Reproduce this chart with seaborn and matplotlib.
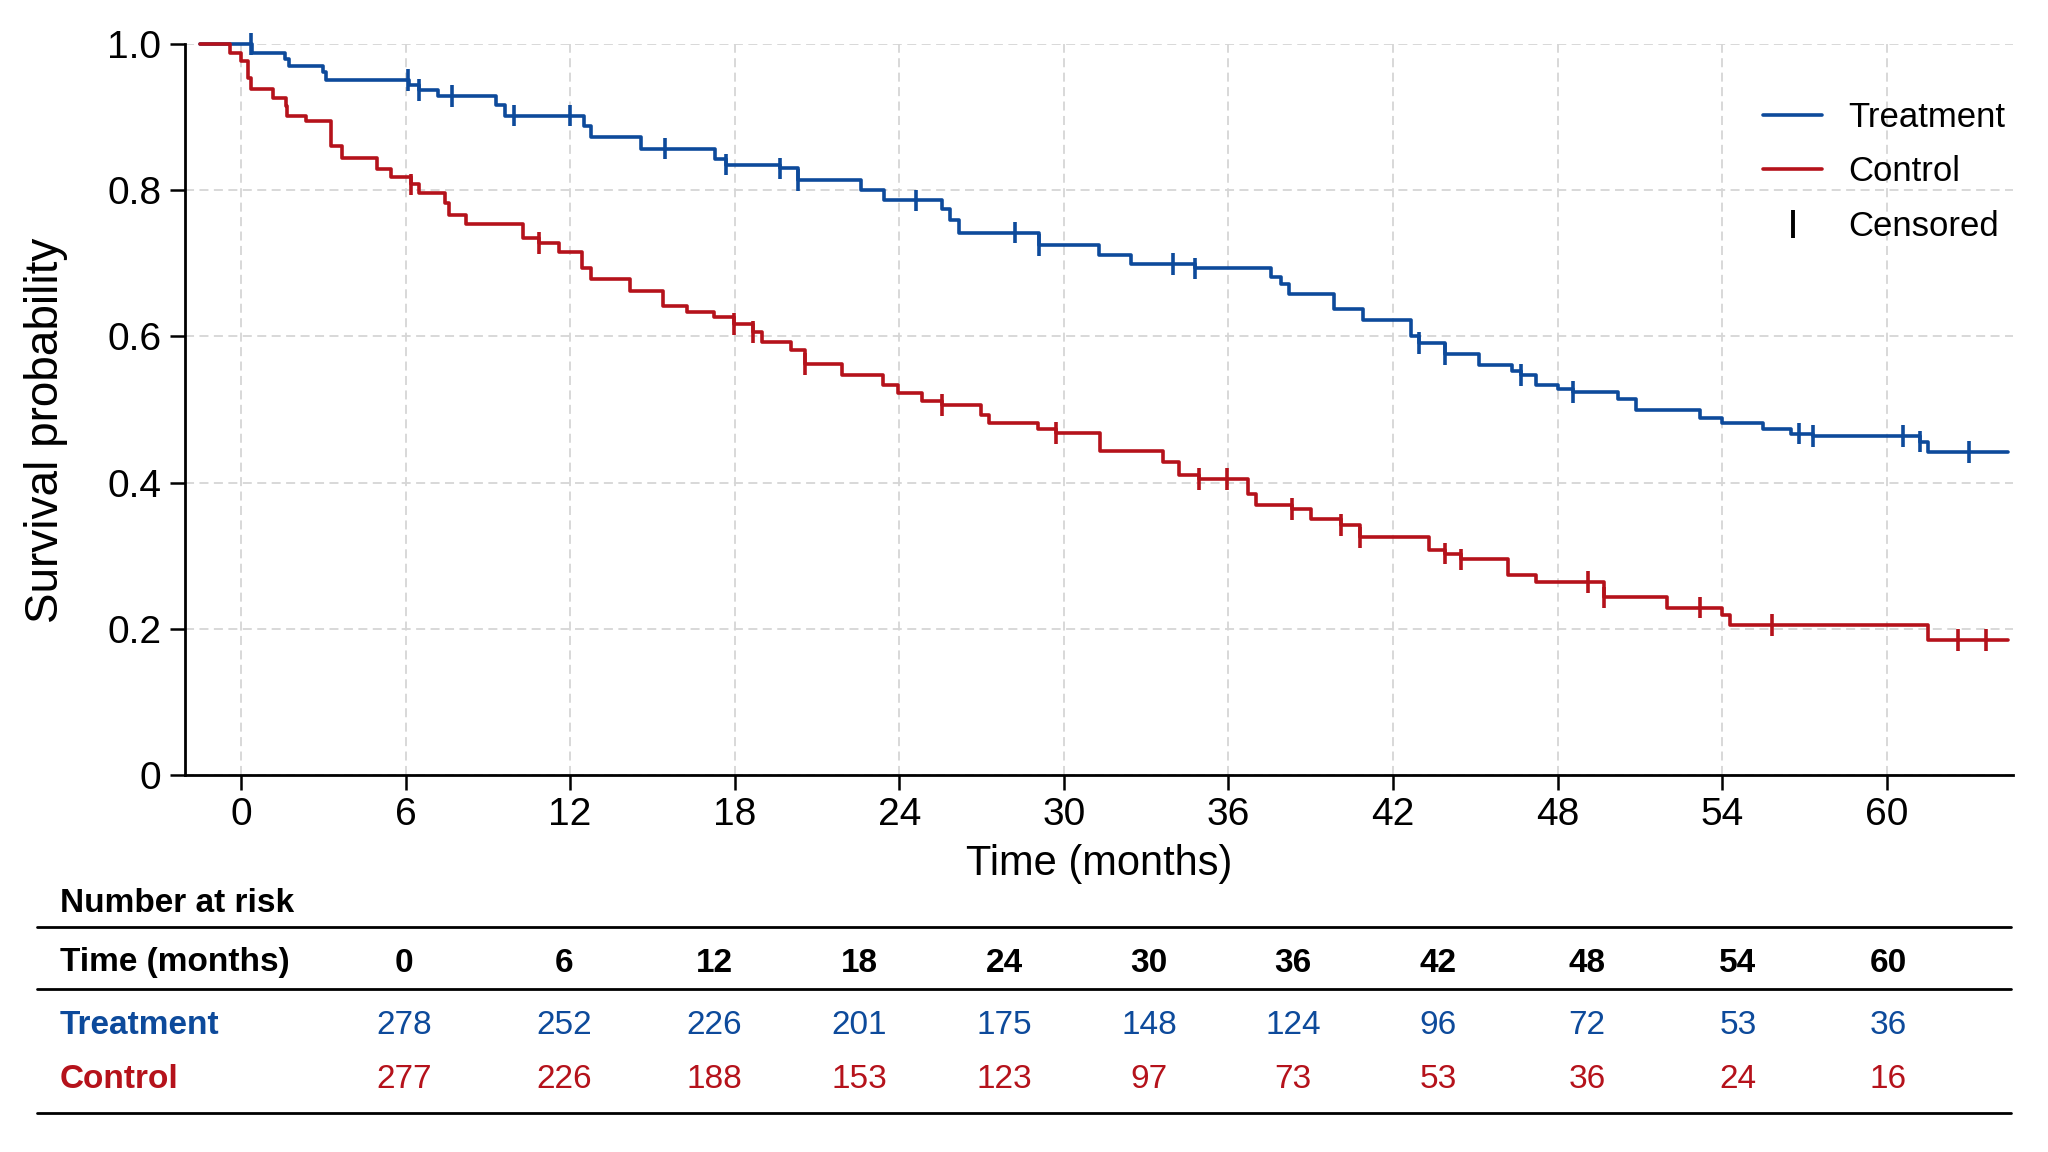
import numpy as np
import pandas as pd
import seaborn as sns
import matplotlib.pyplot as plt
from matplotlib.lines import Line2D

# --- Data ---
groups = ["Treatment", "Control"]
colors = {"Treatment": "#0D4A9B", "Control": "#B5121B"}

t_start, t_end = -1.5, 64.4

trt_times = [0.39, 1.6, 1.75, 3.0, 3.1, 6.13, 6.5, 7.2, 9.29, 9.62, 12.49, 12.76,
             14.6, 17.29, 17.7, 19.66, 20.3, 22.6, 23.43, 25.55, 25.85, 26.16,
             29.08, 31.28, 32.45, 34.78, 37.54, 37.9, 38.2, 39.86, 40.9, 42.65,
             42.95, 43.9, 45.13, 46.35, 46.66, 47.2, 48.0, 48.56, 50.2, 50.87,
             53.2, 54.0, 55.5, 56.5, 57.3, 61.2, 61.5]
trt_surv = [0.988, 0.979, 0.970, 0.962, 0.951, 0.944, 0.937, 0.929, 0.916, 0.902,
            0.888, 0.873, 0.857, 0.843, 0.835, 0.830, 0.814, 0.800, 0.786, 0.774,
            0.759, 0.742, 0.725, 0.712, 0.699, 0.693, 0.681, 0.671, 0.658, 0.637,
            0.623, 0.600, 0.591, 0.576, 0.561, 0.553, 0.547, 0.534, 0.528, 0.524,
            0.515, 0.499, 0.489, 0.482, 0.474, 0.467, 0.464, 0.456, 0.442]
trt_censor = [0.36, 6.1, 6.5, 7.68, 9.96, 12.0, 15.45, 17.7, 19.66, 20.3, 24.6,
              28.2, 29.08, 33.99, 34.78, 42.95, 43.9, 46.66, 48.56, 56.8, 57.3,
              60.6, 61.2, 63.0]

ctl_times = [-0.4, 0.0, 0.27, 0.37, 1.18, 1.65, 1.69, 2.37, 3.28, 3.3, 3.67, 4.95,
             5.46, 6.21, 6.48, 7.45, 7.6, 8.22, 10.27, 10.85, 11.6, 12.45, 12.76,
             14.2, 15.4, 16.25, 17.23, 17.96, 18.66, 19.0, 20.05, 20.57, 21.9,
             23.4, 23.95, 24.83, 25.57, 26.97, 27.28, 29.05, 29.7, 31.3, 33.63,
             34.2, 34.92, 36.73, 37.0, 38.3, 39.0, 40.1, 40.8, 43.3, 43.9, 44.47,
             46.2, 47.2, 49.7, 52.0, 54.0, 54.3, 61.5]
ctl_surv = [0.988, 0.977, 0.954, 0.939, 0.926, 0.915, 0.902, 0.895, 0.884, 0.861,
            0.844, 0.829, 0.818, 0.808, 0.796, 0.783, 0.766, 0.754, 0.735, 0.728,
            0.716, 0.693, 0.678, 0.662, 0.642, 0.634, 0.627, 0.617, 0.606, 0.593,
            0.581, 0.562, 0.547, 0.534, 0.523, 0.512, 0.506, 0.492, 0.482, 0.473,
            0.468, 0.443, 0.428, 0.411, 0.405, 0.385, 0.370, 0.364, 0.350, 0.342,
            0.325, 0.308, 0.303, 0.295, 0.274, 0.264, 0.243, 0.229, 0.219, 0.205,
            0.185]
ctl_censor = [6.21, 10.85, 17.96, 18.66, 20.57, 25.57, 29.7, 34.92, 35.94, 38.3,
              40.1, 40.8, 43.9, 44.47, 49.1, 49.7, 53.2, 55.8, 62.6, 63.6]

risk_times = [0, 6, 12, 18, 24, 30, 36, 42, 48, 54, 60]
trt_risk = [278, 252, 226, 201, 175, 148, 124, 96, 72, 53, 36]
ctl_risk = [277, 226, 188, 153, 123, 97, 73, 53, 36, 24, 16]

# --- Build tables ---
curves, cens = [], []
for g, tt, ss, cc in [("Treatment", trt_times, trt_surv, trt_censor),
                      ("Control", ctl_times, ctl_surv, ctl_censor)]:
    t = [t_start] + tt + [t_end]
    s = [1.0] + ss + [ss[-1]]
    curves.append(pd.DataFrame({"time": t, "surv": s, "group": g}))
    idx = np.searchsorted(t, cc, side="right") - 1
    cens.append(pd.DataFrame({"time": cc, "surv": np.array(s)[idx], "group": g}))
df = pd.concat(curves, ignore_index=True)
df_c = pd.concat(cens, ignore_index=True)

# --- Style ---
sns.set_theme(style="white")
plt.rcParams["font.family"] = ["Liberation Sans", "DejaVu Sans"]
plt.rcParams.update({"text.color": "black", "axes.labelcolor": "black",
                     "xtick.color": "black", "ytick.color": "black"})

W, H = 2048, 1152
fig = plt.figure(figsize=(W / 100, H / 100), dpi=100)
ax = fig.add_axes([185 / W, 1 - 775 / H, (2013 - 185) / W, (775 - 44) / H])

sns.lineplot(data=df, x="time", y="surv", hue="group", palette=colors,
             drawstyle="steps-post", estimator=None, sort=False,
             linewidth=2.6, legend=False, ax=ax, clip_on=False, zorder=3)
sns.scatterplot(data=df_c, x="time", y="surv", hue="group", palette=colors,
                marker="|", s=240, linewidth=2.6, legend=False, ax=ax,
                zorder=4, clip_on=False)

ax.set_xlim(-2.04, 64.6)
ax.set_ylim(0, 1.0)
ax.set_xticks(risk_times)
ax.set_yticks([0, 0.2, 0.4, 0.6, 0.8, 1.0])
ax.set_yticklabels(["0", "0.2", "0.4", "0.6", "0.8", "1.0"])
ax.grid(True, linestyle=(0, (5, 3)), color="#d6d6d6", linewidth=1.3)
ax.set_axisbelow(True)
for side in ["top", "right"]:
    ax.spines[side].set_visible(False)
for side in ["left", "bottom"]:
    ax.spines[side].set_linewidth(2.0)
    ax.spines[side].set_color("black")
ax.tick_params(axis="both", direction="out", length=11, width=1.8,
               labelsize=28, left=True, bottom=True)
ax.tick_params(axis="y", pad=6)
ax.tick_params(axis="x", pad=5)
ax.set_xlabel("Time (months)", fontsize=30, labelpad=8)
ax.set_ylabel("Survival probability", fontsize=33)
ax.yaxis.set_label_coords(-0.064, 0.471)

handles = [Line2D([], [], color=colors["Treatment"], lw=2.6),
           Line2D([], [], color=colors["Control"], lw=2.6),
           Line2D([], [], color="black", marker="|", linestyle="none",
                  markersize=20, markeredgewidth=2.8)]
ax.legend(handles, ["Treatment", "Control", "Censored"], loc="upper right",
          bbox_to_anchor=(1.013, 0.965), frameon=False, fontsize=25,
          handlelength=1.7, handletextpad=0.75, labelspacing=0.62)

# --- Number at risk table ---
tab = fig.add_axes([0, 0, 1, 1], zorder=-1)
tab.set_xlim(0, W)
tab.set_ylim(H, 0)
tab.axis("off")
col_x = [404, 564, 714, 859, 1004, 1149, 1293, 1438, 1587, 1738, 1888]
fs = 24
tab.text(60, 904, "Number at risk", fontsize=fs, fontweight="bold",
         va="center", ha="left")
for y in [927, 989, 1113]:
    tab.plot([37, 2011], [y, y], color="black", lw=2.0)
tab.text(60, 963, "Time (months)", fontsize=fs, fontweight="bold",
         va="center", ha="left")
tab.text(60, 1025, "Treatment", fontsize=fs, fontweight="bold",
         color=colors["Treatment"], va="center", ha="left")
tab.text(60, 1080, "Control", fontsize=fs, fontweight="bold",
         color=colors["Control"], va="center", ha="left")
for x, t, a, b in zip(col_x, risk_times, trt_risk, ctl_risk):
    tab.text(x, 963, str(t), fontsize=fs, fontweight="bold", ha="center", va="center")
    tab.text(x, 1025, str(a), fontsize=fs, color=colors["Treatment"],
             ha="center", va="center")
    tab.text(x, 1080, str(b), fontsize=fs, color=colors["Control"],
             ha="center", va="center")

fig.savefig("out.png", dpi=100, facecolor="white")
